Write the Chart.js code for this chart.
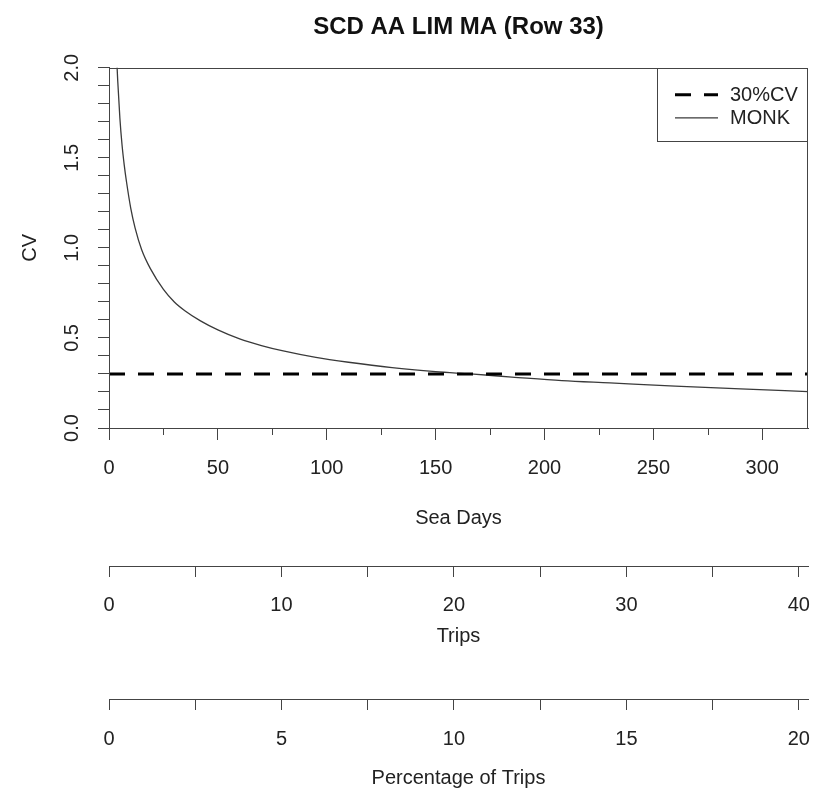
<!DOCTYPE html>
<html>
<head>
<meta charset="utf-8">
<script src="https://cdn.jsdelivr.net/npm/chart.js@4.4.1/dist/chart.umd.min.js"></script>
<style>
  html, body { margin: 0; padding: 0; background: #fff; }
</style>
</head>
<body>
<canvas id="cvChart" width="820" height="792"></canvas>
<script>
// values
const seaDays = [3.5, 4, 5, 6, 7, 8, 10, 12, 15, 19, 25, 30, 35, 42, 50, 60, 70, 80, 95, 110, 130, 150, 166, 185, 208, 230, 260, 290, 321];
const monkCV = [2.06, 1.93, 1.72, 1.57, 1.46, 1.37, 1.22, 1.11, 0.99, 0.885, 0.77, 0.70, 0.65, 0.595, 0.545, 0.495, 0.458, 0.428, 0.392, 0.365, 0.335, 0.313, 0.30, 0.283, 0.263, 0.25, 0.232, 0.217, 0.202];
const targetCV = 0.3;
const seaDayMax = 321;
const daysPerTrip = 7.92;
const totalTrips = 200;

const tripMax = seaDayMax / daysPerTrip;
const pctMax = tripMax / totalTrips * 100;

const FONT = 'Liberation Sans, Arial, sans-serif';
const SIZE = 20;
const INK = '#222';
const AXIS = '#444';

// R-ish extras: box, short minor ticks, rotated y labels, legend inside plot
const rStyle = {
  id: 'rStyle',
  afterDraw(chart) {
    const { ctx, chartArea: a, scales } = chart;
    ctx.save();
    ctx.strokeStyle = AXIS;
    ctx.lineWidth = 1;
    ctx.strokeRect(Math.round(a.left) + 0.5, Math.round(a.top) + 0.5, Math.round(a.right - a.left) - 1, Math.round(a.bottom - a.top));

    // minor sea-day ticks (25, 75, ...)
    scales.x.ticks.forEach(t => {
      if (t.value % 50 !== 0) {
        const px = Math.round(scales.x.getPixelForValue(t.value)) + 0.5;
        ctx.beginPath();
        ctx.moveTo(px, a.bottom);
        ctx.lineTo(px, a.bottom + 7);
        ctx.stroke();
      }
    });

    // y tick labels, rotated like base R
    ctx.fillStyle = INK;
    ctx.font = SIZE + 'px ' + FONT;
    ctx.textAlign = 'center';
    ctx.textBaseline = 'middle';
    scales.y.ticks.forEach(t => {
      const v = Math.round(t.value * 10);
      if (v % 5 === 0) {
        const py = scales.y.getPixelForValue(t.value);
        ctx.save();
        ctx.translate(72, py);
        ctx.rotate(-Math.PI / 2);
        ctx.fillText((v / 10).toFixed(1), 0, 0);
        ctx.restore();
      }
    });

    // legend
    const w = 151, h = 73;
    const lx = a.right - w, ly = a.top;
    ctx.fillStyle = '#fff';
    ctx.fillRect(lx, ly, w, h);
    ctx.strokeStyle = AXIS;
    ctx.lineWidth = 1;
    ctx.strokeRect(Math.round(lx) + 0.5, Math.round(ly) + 0.5, w - 1, h);
    chart.data.datasets.forEach((ds, i) => {
      const y = ly + 27 + i * 23;
      ctx.save();
      ctx.strokeStyle = ds.borderColor;
      ctx.lineWidth = ds.borderWidth;
      ctx.setLineDash(ds.borderDash || []);
      ctx.beginPath();
      ctx.moveTo(lx + 18, y);
      ctx.lineTo(lx + 61, y);
      ctx.stroke();
      ctx.restore();
      ctx.fillStyle = INK;
      ctx.textAlign = 'left';
      ctx.fillText(ds.label, lx + 73, y + 1);
    });
    ctx.restore();
  }
};

// bottom axes: fixed heights, no extra side padding from end labels
const fixBottom = height => s => { s.height = height; s.paddingLeft = 0; s.paddingRight = 0; };
const axisFont = { family: FONT, size: SIZE };

const config = {
  type: 'line',
  data: {
    datasets: [
      {
        label: '30%CV',
        data: [{ x: 0, y: targetCV }, { x: seaDayMax, y: targetCV }],
        borderColor: '#000',
        borderWidth: 3,
        borderDash: [16, 13],
        pointRadius: 0
      },
      {
        label: 'MONK',
        data: seaDays.map((d, i) => ({ x: d, y: monkCV[i] })),
        borderColor: '#3a3a3a',
        borderWidth: 1.3,
        pointRadius: 0,
        cubicInterpolationMode: 'monotone'
      }
    ]
  },
  options: {
    responsive: false,
    animation: false,
    devicePixelRatio: 1,
    events: [],
    layout: { padding: { top: 0, right: 12, bottom: 0, left: 0 } },
    plugins: {
      legend: { display: false },
      tooltip: { enabled: false },
      title: {
        display: true,
        fullSize: false,
        text: 'SCD AA LIM MA (Row 33)',
        color: '#111',
        font: { family: FONT, size: 24, weight: 'bold' },
        padding: { top: 13, bottom: 26 }
      }
    },
    scales: {
      x: {
        type: 'linear',
        position: 'bottom',
        min: 0,
        max: seaDayMax,
        border: { color: AXIS },
        grid: {
          drawOnChartArea: false,
          tickLength: 12,
          tickColor: c => (c.tick && c.tick.value % 50 === 0) ? AXIS : 'rgba(0,0,0,0)'
        },
        ticks: {
          stepSize: 25,
          includeBounds: false,
          autoSkip: false,
          maxRotation: 0,
          padding: 16,
          color: INK,
          font: axisFont,
          callback: v => (v % 50 === 0 ? String(v) : '')
        },
        title: { display: true, text: 'Sea Days', color: INK, font: axisFont, padding: { top: 0, bottom: 36 } },
        afterFit: fixBottom(138)
      },
      trips: {
        type: 'linear',
        position: 'bottom',
        min: 0,
        max: tripMax,
        border: { color: AXIS },
        grid: { drawOnChartArea: false, tickLength: 11, tickColor: AXIS },
        ticks: {
          stepSize: 5,
          includeBounds: false,
          autoSkip: false,
          maxRotation: 0,
          padding: 16,
          color: INK,
          font: axisFont,
          callback: v => (v % 10 === 0 ? String(v) : '')
        },
        title: { display: true, text: 'Trips', color: INK, font: axisFont, padding: { top: 0, bottom: 51 } },
        afterFit: fixBottom(133)
      },
      pct: {
        type: 'linear',
        position: 'bottom',
        min: 0,
        max: pctMax,
        border: { color: AXIS },
        grid: { drawOnChartArea: false, tickLength: 11, tickColor: AXIS },
        ticks: {
          stepSize: 2.5,
          includeBounds: false,
          autoSkip: false,
          maxRotation: 0,
          padding: 17,
          color: INK,
          font: axisFont,
          callback: v => (v % 5 === 0 ? String(v) : '')
        },
        title: { display: true, text: 'Percentage of Trips', color: INK, font: axisFont, padding: { top: 0, bottom: 2 } },
        afterFit: fixBottom(93)
      },
      y: {
        type: 'linear',
        position: 'left',
        min: 0,
        max: 2,
        border: { color: AXIS },
        grid: { drawOnChartArea: false, tickLength: 11, tickColor: AXIS },
        ticks: { stepSize: 0.1, includeBounds: false, display: false },
        title: { display: true, text: 'CV', color: INK, font: axisFont, padding: { top: 18, bottom: 0 } },
        afterFit: s => { s.width = 109; }
      }
    }
  },
  plugins: [rStyle]
};

const cvChart = new Chart(document.getElementById('cvChart'), config);
</script>
</body>
</html>
